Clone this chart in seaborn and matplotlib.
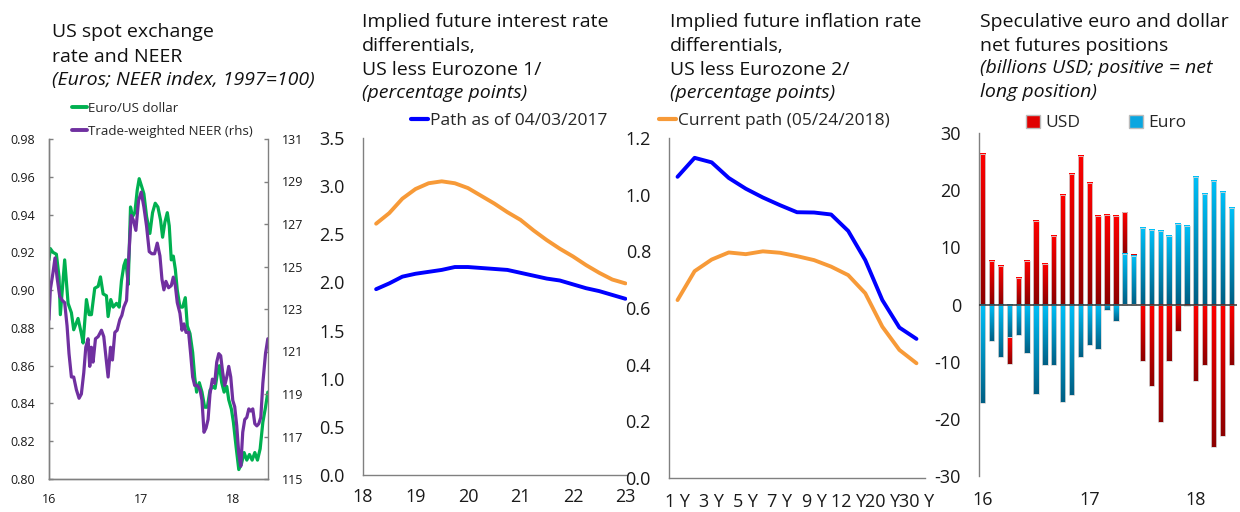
import numpy as np
import matplotlib
matplotlib.use("Agg")
import matplotlib.pyplot as plt
from matplotlib.lines import Line2D
from matplotlib.patches import Patch
from matplotlib.colors import LinearSegmentedColormap
import seaborn as sns

# ---- panel 1: spot rate and NEER (fractional years) ----
eur_t = [16.000, 16.014, 16.043, 16.080, 16.109, 16.123, 16.170, 16.207, 16.243, 16.268,
         16.315, 16.351, 16.370, 16.406, 16.435, 16.460, 16.496, 16.533, 16.558, 16.587,
         16.623, 16.641, 16.670, 16.696, 16.732, 16.761, 16.786, 16.812, 16.833, 16.859,
         16.884, 16.906, 16.931, 16.957, 16.978, 17.004, 17.029, 17.058, 17.094, 17.123,
         17.152, 17.181, 17.210, 17.232, 17.257, 17.283, 17.304, 17.326, 17.348, 17.370,
         17.391, 17.420, 17.449, 17.478, 17.500, 17.529, 17.558, 17.580, 17.601, 17.630,
         17.659, 17.688, 17.717, 17.746, 17.775, 17.801, 17.826, 17.848, 17.873, 17.899,
         17.928, 17.949, 17.978, 18.000, 18.029, 18.058, 18.087, 18.116, 18.145, 18.174,
         18.203, 18.232, 18.261, 18.290, 18.319, 18.348, 18.373]
eur_usd = [0.916, 0.922, 0.920, 0.919, 0.907, 0.887, 0.916, 0.893, 0.888, 0.879,
           0.885, 0.877, 0.872, 0.895, 0.887, 0.887, 0.901, 0.902, 0.907, 0.898,
           0.897, 0.886, 0.895, 0.891, 0.893, 0.891, 0.905, 0.913, 0.916, 0.903,
           0.944, 0.939, 0.941, 0.953, 0.959, 0.955, 0.951, 0.939, 0.930, 0.941,
           0.946, 0.944, 0.937, 0.928, 0.936, 0.941, 0.934, 0.916, 0.918, 0.911,
           0.900, 0.891, 0.891, 0.896, 0.881, 0.877, 0.867, 0.854, 0.846, 0.851,
           0.846, 0.838, 0.838, 0.847, 0.849, 0.848, 0.856, 0.860, 0.851, 0.846,
           0.849, 0.842, 0.837, 0.830, 0.817, 0.805, 0.808, 0.814, 0.810, 0.813,
           0.810, 0.814, 0.810, 0.816, 0.830, 0.838, 0.846]

neer_t = [16.000, 16.014, 16.043, 16.065, 16.087, 16.116, 16.145, 16.170, 16.196, 16.217,
          16.243, 16.268, 16.297, 16.326, 16.351, 16.377, 16.399, 16.424, 16.442, 16.460,
          16.478, 16.504, 16.533, 16.569, 16.594, 16.616, 16.641, 16.667, 16.688, 16.714,
          16.739, 16.768, 16.790, 16.812, 16.841, 16.862, 16.891, 16.913, 16.942, 16.971,
          17.000, 17.029, 17.058, 17.087, 17.116, 17.145, 17.174, 17.203, 17.225, 17.246,
          17.268, 17.297, 17.326, 17.348, 17.370, 17.391, 17.420, 17.442, 17.464, 17.486,
          17.514, 17.536, 17.558, 17.580, 17.609, 17.638, 17.659, 17.681, 17.703, 17.725,
          17.746, 17.772, 17.797, 17.819, 17.841, 17.862, 17.884, 17.906, 17.928, 17.949,
          17.971, 17.993, 18.014, 18.036, 18.058, 18.080, 18.101, 18.123, 18.145, 18.167,
          18.188, 18.210, 18.232, 18.254, 18.275, 18.297, 18.319, 18.348, 18.373]
neer = [122.5, 123.9, 124.7, 125.4, 124.5, 123.6, 123.4, 123.3, 122.2, 120.9,
        119.8, 119.8, 119.2, 118.8, 119.0, 120.0, 121.2, 121.6, 120.3, 121.2,
        120.5, 121.6, 121.7, 122.0, 121.7, 120.8, 119.8, 121.2, 120.6, 121.9,
        122.0, 122.5, 122.7, 123.1, 123.4, 125.2, 127.4, 127.2, 126.7, 128.1,
        128.5, 127.8, 126.9, 125.7, 125.6, 125.6, 126.1, 125.5, 124.4, 123.9,
        124.3, 124.0, 124.1, 124.5, 124.1, 123.3, 122.8, 122.0, 122.3, 121.9,
        121.9, 120.9, 119.8, 119.4, 119.4, 119.2, 118.7, 117.2, 117.4, 117.8,
        119.0, 119.7, 119.5, 120.5, 120.9, 120.8, 120.0, 119.4, 119.8, 120.3,
        119.8, 118.7, 118.4, 117.5, 116.2, 115.6, 117.2, 117.8, 117.9, 118.3,
        118.2, 118.3, 117.6, 117.5, 117.6, 117.9, 119.5, 120.9, 121.6]

# ---- panel 2: implied interest rate differentials ----
rate_t = [18.25, 18.5, 18.75, 19.0, 19.25, 19.5, 19.75, 20.0, 20.25, 20.5,
          20.75, 21.0, 21.25, 21.5, 21.75, 22.0, 22.25, 22.5, 22.75, 23.0]
rate_2017 = [1.93, 1.99, 2.06, 2.09, 2.11, 2.13, 2.16, 2.16, 2.15, 2.14,
             2.13, 2.10, 2.07, 2.04, 2.02, 1.98, 1.94, 1.91, 1.87, 1.83]
rate_now = [2.61, 2.72, 2.87, 2.97, 3.03, 3.05, 3.03, 2.98, 2.90, 2.82,
            2.73, 2.65, 2.54, 2.44, 2.35, 2.27, 2.18, 2.10, 2.03, 1.99]

# ---- panel 3: implied inflation differentials ----
tenors = ["1 Y", "2 Y", "3 Y", "4 Y", "5 Y", "6 Y", "7 Y", "8 Y", "9 Y", "10 Y",
          "12 Y", "15 Y", "20 Y", "25 Y", "30 Y"]
infl_2017 = [1.063, 1.130, 1.114, 1.059, 1.021, 0.990, 0.963, 0.938, 0.937, 0.930,
             0.872, 0.769, 0.628, 0.531, 0.491]
infl_now = [0.628, 0.730, 0.771, 0.796, 0.790, 0.800, 0.795, 0.783, 0.769, 0.746,
            0.716, 0.652, 0.534, 0.452, 0.405]

# ---- panel 4: net futures positions, Jan 2016 - May 2018 ----
months = ["16-01", "16-02", "16-03", "16-04", "16-05", "16-06", "16-07", "16-08", "16-09", "16-10",
          "16-11", "16-12", "17-01", "17-02", "17-03", "17-04", "17-05", "17-06", "17-07", "17-08",
          "17-09", "17-10", "17-11", "17-12", "18-01", "18-02", "18-03", "18-04", "18-05"]
euro_pos = [-17.2, -6.3, -9.2, -5.7, -5.3, -8.5, -15.7, -10.6, -10.6, -17.0,
            -15.8, -9.1, -7.0, -7.7, -1.0, -2.8, 8.9, 8.4, 13.3, 13.0,
            12.9, 12.0, 14.1, 13.7, 22.3, 19.3, 21.6, 19.6, 16.8]
usd_pos = [26.4, 7.6, 6.8, -4.7, 4.6, 7.6, 14.6, 7.0, 12.0, 19.1,
           22.9, 25.9, 21.3, 15.4, 15.6, 15.4, 7.3, 0.3, -9.8, -14.2,
           -20.5, -9.8, -4.7, -0.2, -13.3, -10.6, -24.9, -23.0, -10.5]

sns.set_theme(style="white")
plt.rcParams["font.family"] = ["Open Sans", "DejaVu Sans"]
plt.rcParams["axes.unicode_minus"] = False

GRAY = "#808080"
fig = plt.figure(figsize=(12.4, 5.12), dpi=100)


def px_axes(l, t, r, b):
    return fig.add_axes([l / 1240, 1 - b / 512, (r - l) / 1240, (b - t) / 512])


def style_axes(ax, size, ypad, xpad):
    for s in ax.spines.values():
        s.set_color(GRAY)
        s.set_linewidth(1)
    ax.tick_params(direction="in", length=4, width=1, color=GRAY, labelsize=size,
                   labelcolor="#1a1a1a")
    ax.tick_params(axis="y", pad=ypad)
    ax.tick_params(axis="x", pad=xpad)
    ax.set_xlabel("")
    ax.set_ylabel("")


def title(x, lines):
    for y, txt, italic in lines:
        fig.text(x / 1240, 1 - y / 512, txt, fontsize=14, va="baseline", ha="left",
                 style="italic" if italic else "normal", color="#111111")


# ---------------- panel 1 ----------------
ax1 = px_axes(49, 139, 268, 479)
sns.lineplot(x=eur_t, y=eur_usd, ax=ax1, color="#00b050", lw=2.3)
ax1r = ax1.twinx()
sns.lineplot(x=neer_t, y=neer, ax=ax1r, color="#7030a0", lw=2.3)
ax1.set_xlim(16, 18.375)
ax1.set_ylim(0.80, 0.98)
ax1r.set_ylim(115, 131)
ax1.set_yticks(np.arange(0.80, 0.981, 0.02))
ax1.set_yticklabels([f"{v:.2f}" for v in np.arange(0.80, 0.981, 0.02)])
ax1r.set_yticks(range(115, 132, 2))
ax1.set_xticks([16, 17, 18])
ax1.set_xticklabels(["16", "17", "18"])
for a in (ax1, ax1r):
    style_axes(a, 9, 10, 10)
    a.spines["top"].set_visible(False)
    a.tick_params(axis="y", length=3)
ax1.spines["right"].set_visible(False)
fig.legend(handles=[Line2D([], [], color="#00b050", lw=2.8, label="Euro/US dollar"),
                    Line2D([], [], color="#7030a0", lw=2.8, label="Trade-weighted NEER (rhs)")],
           loc="upper left", bbox_to_anchor=(72 / 1240, 1 - 102 / 512), frameon=False,
           fontsize=9.5, handlelength=1.1, handletextpad=0.1, labelspacing=0.75,
           borderaxespad=0, borderpad=0)
title(52, [(37, "US spot exchange", False), (62, "rate and NEER", False),
           (85, "(Euros; NEER index, 1997=100)", True)])

# ---------------- panel 2 ----------------
ax2 = px_axes(363, 138, 627, 475)
sns.lineplot(x=rate_t, y=rate_2017, ax=ax2, color="#0000ff", lw=2.8)
sns.lineplot(x=rate_t, y=rate_now, ax=ax2, color="#f79a38", lw=2.8)
ax2.set_xlim(18, 23.03)
ax2.set_ylim(0, 3.5)
ax2.set_yticks(np.arange(0, 3.51, 0.5))
ax2.set_yticklabels([f"{v:.1f}" for v in np.arange(0, 3.51, 0.5)])
ax2.set_xticks(range(18, 24))
ax2.set_xticklabels([str(v) for v in range(18, 24)])
style_axes(ax2, 13, 13, 9)
ax2.spines[["top", "right"]].set_visible(False)
fig.legend(handles=[Line2D([], [], color="#0000ff", lw=3, label="Path as of 04/03/2017")],
           loc="center left", bbox_to_anchor=(411 / 1240, 1 - 121 / 512), frameon=False,
           fontsize=12.5, handlelength=1.0, handletextpad=0.1, borderaxespad=0, borderpad=0)
title(362, [(27, "Implied future interest rate", False), (51, "differentials,", False),
            (75, "US less Eurozone 1/", False), (98, "(percentage points)", True)])

# ---------------- panel 3 ----------------
ax3 = px_axes(669, 138, 925, 478)
xi = np.arange(len(tenors))
sns.lineplot(x=xi, y=infl_2017, ax=ax3, color="#0000ff", lw=2.8)
sns.lineplot(x=xi, y=infl_now, ax=ax3, color="#f79a38", lw=2.8)
ax3.set_xlim(-0.5, len(tenors) - 0.5)
ax3.set_ylim(0, 1.2)
ax3.set_yticks(np.arange(0, 1.21, 0.2))
ax3.set_yticklabels([f"{v:.1f}" for v in np.arange(0, 1.21, 0.2)])
ax3.set_xticks(xi[::2])
ax3.set_xticklabels(tenors[::2])
ax3.set_xticks(xi[1:-1:2] + 0.5, minor=True)
style_axes(ax3, 13, 13, 9)
ax3.tick_params(axis="x", which="major", length=0, pad=11)
ax3.tick_params(axis="x", which="minor", direction="in", length=5, width=1, color=GRAY)
ax3.spines[["top", "right"]].set_visible(False)
fig.legend(handles=[Line2D([], [], color="#f79a38", lw=3, label="Current path (05/24/2018)")],
           loc="center left", bbox_to_anchor=(659 / 1240, 1 - 121 / 512), frameon=False,
           fontsize=12.5, handlelength=1.0, handletextpad=0.1, borderaxespad=0, borderpad=0)
title(670, [(27, "Implied future inflation rate", False), (51, "differentials,", False),
            (75, "US less Eurozone 2/", False), (98, "(percentage points)", True)])

# ---------------- panel 4 ----------------
ax4 = px_axes(979, 133, 1237, 476)
euro_arr = np.array(euro_pos)
usd_arr = np.array(usd_pos)
same = np.sign(euro_arr) == np.sign(usd_arr)
usd_top = np.where(same, euro_arr + usd_arr, usd_arr)
usd_base = np.where(same, euro_arr, 0.0)
mi = np.arange(len(months))
sns.barplot(x=mi, y=usd_top, ax=ax4, native_scale=True, width=0.6, color="red", errorbar=None)
sns.barplot(x=mi, y=euro_arr, ax=ax4, native_scale=True, width=0.6, color="#00b0f0", errorbar=None)
red_cmap = LinearSegmentedColormap.from_list("reds", ["#8c0000", "#ff0000"])
blue_cmap = LinearSegmentedColormap.from_list("blues", ["#005f84", "#00c0f8"])
grad = np.linspace(0, 1, 64).reshape(-1, 1)
patches = list(ax4.patches)
n = len(months)
for i, p in enumerate(patches):
    k = i % n
    if i < n:
        lo, hi = sorted([usd_base[k], usd_top[k]])
        cmap, z = red_cmap, 2
    else:
        lo, hi = sorted([0.0, euro_arr[k]])
        cmap, z = blue_cmap, 3
    x0, w = p.get_x(), p.get_width()
    ax4.imshow(grad, cmap=cmap, origin="lower", extent=(x0, x0 + w, lo, hi),
               aspect="auto", zorder=z, interpolation="bilinear")
    p.set_y(lo)
    p.set_height(hi - lo)
    p.set_facecolor("none")
    p.set_edgecolor("#d6d6d6")
    p.set_linewidth(0.6)
    p.set_zorder(z + 0.5)
ax4.axhline(0, color="#333333", lw=1.1, zorder=5)
ax4.set_xlim(-0.42, n - 0.35)
ax4.set_ylim(-30, 30)
ax4.set_yticks(range(-30, 31, 10))
ax4.set_xticks([0, 12, 24])
ax4.set_xticklabels(["16", "17", "18"])
style_axes(ax4, 13, 13, 9)
ax4.tick_params(axis="x", length=0, pad=11)
ax4.spines[["top", "right", "bottom"]].set_visible(False)
fig.legend(handles=[Patch(facecolor="#e00000", edgecolor="#bbbbbb", label="USD"),
                    Patch(facecolor="#0aa6e0", edgecolor="#bbbbbb", label="Euro")],
           loc="center left", bbox_to_anchor=(1026 / 1240, 1 - 123 / 512), frameon=False,
           fontsize=12.5, ncol=2, handlelength=0.8, handleheight=0.8, handletextpad=0.3,
           columnspacing=2.8, borderaxespad=0, borderpad=0)
title(980, [(27, "Speculative euro and dollar", False), (51, "net futures positions", False),
            (73, "(billions USD; positive = net", True), (97, "long position)", True)])

fig.savefig("out.png", dpi=100)
